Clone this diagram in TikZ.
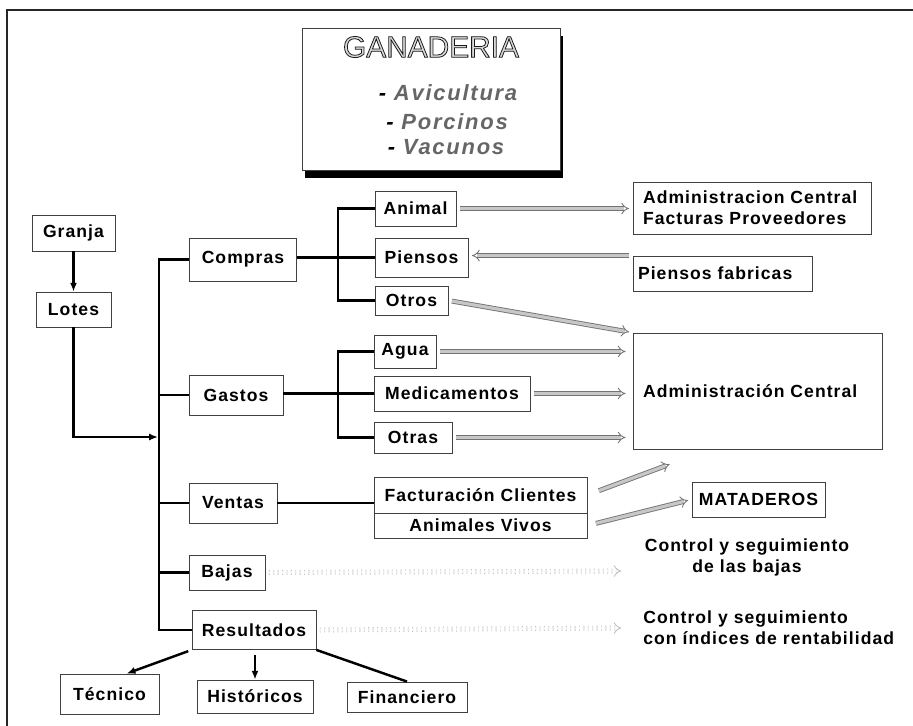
\documentclass[tikz,border=0pt]{standalone}
\usepackage{fontspec}
\setmainfont{Liberation Sans}
\newfontfamily\cajafont[LetterSpace=6]{Liberation Sans}
\newfontfamily\tipofont[LetterSpace=8]{Liberation Sans}
\usetikzlibrary{arrows.meta}
\newcommand\letracaja{\cajafont\bfseries\fontsize{10pt}{12pt}\selectfont}
\newcommand\letratipo{\tipofont\bfseries\itshape\fontsize{12.5pt}{15pt}\selectfont}
\newcommand\contorno[1]{\special{pdf:literal direct 0.1 G 0.45 w 2 Tr}#1\special{pdf:literal direct 0 Tr}}

\begin{document}
\begin{tikzpicture}[x=0.02cm, y=-0.02cm,
    caja/.style={draw=black!75, line width=0.5pt, inner sep=0pt, font=\letracaja},
    texto/.style={inner sep=0pt, font=\letracaja},
    tronco/.style={line width=1.4pt},
    flechita/.style={line width=1.4pt, -{Latex[length=5pt,width=4pt]}},
    flecha/.style={draw=black!55, line width=0.5pt, double=black!22, double distance=1.8pt,
        -Implies, shorten <=2pt, shorten >=2pt},
    punteada/.style={flecha, draw=black!25, double=black!5, dotted},
    tipo/.style={inner sep=0pt, font=\letratipo, text=black!60}]
    \useasboundingbox (0,0) rectangle (913,726);
    % marco
    \draw[line width=0.8pt, black!85] (7,726) -- (7,10) -- (913,10);
    % titulo
    \fill[black] (305,36) rectangle (563,178);
    \node[draw=black!75, fill=white, minimum width=5.16cm, minimum height=2.84cm] (titulo) at (431,99) {};
    \node[inner sep=0pt, font=\fontsize{17pt}{20pt}\selectfont, text=black!15] (ganaderia) at (431,47)
        {\contorno{GANADERIA}};
    \node[tipo] (avicultura) at (448,93) {\textcolor{black}{-} Avicultura};
    \node[tipo] (porcinos) at (447,122) {\textcolor{black}{-} Porcinos};
    \node[tipo] (vacunos) at (446,147) {\textcolor{black}{-} Vacunos};

    % columna izquierda
    \node[caja, minimum width=1.66cm, minimum height=0.72cm] (granja) at (73.5,233) {Granja};
    \node[caja, minimum width=1.50cm, minimum height=0.70cm] (lotes) at (73.5,309.5) {Lotes};
    \coordinate (entrada) at (158,437);
    \coordinate (eje) at (159,0);
    \draw[flechita] (granja) -- (lotes);
    \draw[flechita] (lotes.south) |- (entrada);

    \node[caja, minimum width=2.14cm, minimum height=0.86cm] (compras) at (243,259.5) {Compras};
    \node[caja, minimum width=1.88cm, minimum height=0.80cm] (gastos) at (236,395) {Gastos};
    \node[caja, minimum width=1.76cm, minimum height=0.80cm] (ventas) at (233,503) {Ventas};
    \node[caja, minimum width=1.52cm, minimum height=0.70cm] (bajas) at (227,572.5) {Bajas};
    \node[caja, minimum width=2.48cm, minimum height=0.78cm] (resultados) at (254,630) {Resultados};

    \draw[tronco] (compras.west) -- (compras.west -| eje) -- (resultados.west -| eje) -- (resultados.west);
    \foreach \n in {gastos,ventas,bajas}
        \draw[tronco] (\n.west) -- (\n.west -| eje);

    % compras
    \coordinate (rama) at (338,0);
    \node[caja, minimum width=1.62cm, minimum height=0.70cm] (animal) at (415.5,208.5) {Animal};
    \node[caja, minimum width=1.86cm, minimum height=0.78cm] (piensos) at (421.5,257.5) {Piensos};
    \node[caja, minimum width=1.46cm, minimum height=0.58cm] (otros) at (411.5,300.5) {Otros};
    \draw[tronco] (animal.west) -- (animal.west -| rama) -- (otros.west -| rama) -- (otros.west);
    \draw[tronco] (piensos.west) -- (piensos.west -| compras.east);

    % gastos
    \node[caja, minimum width=1.24cm, minimum height=0.66cm] (agua) at (405,351.5) {Agua};
    \node[caja, minimum width=3.12cm, minimum height=0.70cm] (medicamentos) at (452,393.5) {Medicamentos};
    \node[caja, minimum width=1.56cm, minimum height=0.62cm] (otras) at (413,437.5) {Otras};
    \draw[tronco] (agua.west) -- (agua.west -| rama) -- (otras.west -| rama) -- (otras.west);
    \draw[tronco] (medicamentos.west) -- (medicamentos.west -| gastos.east);

    % ventas
    \node[caja, minimum width=4.26cm, minimum height=0.72cm] (facturacion) at (480.5,495) {Facturación Clientes};
    \node[caja, minimum width=4.26cm, minimum height=0.50cm] (vivos) at (480.5,525.5) {Animales Vivos};
    \draw[tronco] (ventas.east) -- (ventas.east -| facturacion.west);

    % destinos
    \node[caja, minimum width=4.76cm, minimum height=1.04cm, text width=4.36cm, inner xsep=0.2cm, align=left]
        (admfact) at (752,208) {Administracion Central\\Facturas Proveedores};
    \node[caja, minimum width=3.58cm, minimum height=0.70cm, text width=3.38cm, inner xsep=0.1cm, align=left]
        (fabricas) at (722.5,273.5) {Piensos fabricas};
    \node[caja, minimum width=4.98cm, minimum height=2.32cm, text width=4.58cm, inner xsep=0.2cm, align=left]
        (admcentral) at (757.5,391) {Administración Central};
    \node[caja, minimum width=2.66cm, minimum height=0.70cm] (mataderos) at (758.5,499.5) {MATADEROS};
    \node[texto, align=center] (ctrlbajas) at (747,557) {Control y seguimiento\\de las bajas};
    \node[texto, align=left, anchor=west] (ctrlres) at (643,627.5) {Control y seguimiento\\con índices de rentabilidad};
    \coordinate (finfact) at (673,463);
    \coordinate (finbajas) at (625,571);
    \coordinate (finres) at (625,628);

    \draw[flecha] (animal.east) -- (animal.east -| admfact.west);
    \draw[flecha] (fabricas.north west) -- (fabricas.north west -| piensos.east);
    \draw[flecha] (otros.east) -- (admcentral.north west);
    \foreach \n in {agua,medicamentos,otras}
        \draw[flecha, shorten >=4pt] (\n.east) -- (\n.east -| admcentral.west);
    \draw[flecha, shorten <=7pt] (facturacion.east) -- (finfact);
    \draw[flecha, shorten <=5pt] (vivos.east) -- (mataderos.west);
    \draw[punteada] (bajas.east) -- (finbajas);
    \draw[punteada] (resultados.east) -- (finres);

    % resultados
    \node[caja, minimum width=1.98cm, minimum height=0.80cm] (tecnico) at (109.5,694) {Técnico};
    \node[caja, minimum width=2.32cm, minimum height=0.66cm] (historicos) at (255,696.5) {Históricos};
    \node[caja, minimum width=2.40cm, minimum height=0.60cm] (financiero) at (407,697) {Financiero};
    \draw[flechita, shorten <=2pt] (resultados.south west) -- (tecnico.50);
    \draw[flechita, shorten <=3pt] (resultados.south -| historicos.north) -- (historicos.north);
    \draw[tronco] (financiero.north) -- (resultados.south east);
\end{tikzpicture}
\end{document}
